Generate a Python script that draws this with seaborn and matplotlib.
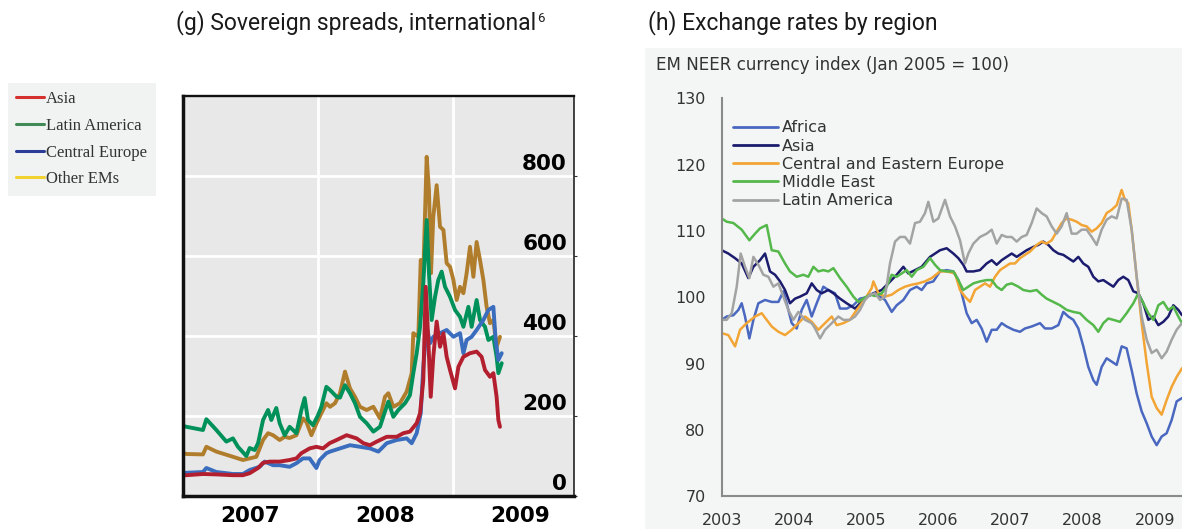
import matplotlib
matplotlib.use("Agg")
import matplotlib.pyplot as plt
import numpy as np
import pandas as pd
import seaborn as sns
from matplotlib.lines import Line2D
from matplotlib.patches import Rectangle
from matplotlib.transforms import ScaledTranslation, blended_transform_factory

# ---------------- (g) Sovereign spreads, basis points ----------------
asia_t = [2007.000, 2007.025, 2007.148, 2007.247, 2007.370, 2007.444, 2007.494, 2007.556,
          2007.593, 2007.642, 2007.716, 2007.790, 2007.840, 2007.877, 2007.938, 2007.988,
          2008.037, 2008.086, 2008.138, 2008.212, 2008.286, 2008.336, 2008.385, 2008.435,
          2008.509, 2008.583, 2008.632, 2008.681, 2008.731, 2008.756, 2008.780, 2008.798,
          2008.817, 2008.835, 2008.854, 2008.879, 2008.904, 2008.929, 2008.953, 2008.978,
          2009.015, 2009.040, 2009.077, 2009.126, 2009.175, 2009.212, 2009.237, 2009.274,
          2009.299, 2009.323, 2009.336, 2009.348]
asia_v = [52, 52, 55, 54, 52, 52, 57, 70,
          83, 86, 86, 90, 94, 107, 119, 123,
          119, 132, 140, 152, 144, 132, 127, 136,
          148, 148, 157, 161, 182, 207, 290, 523,
          390, 248, 348, 436, 373, 407, 348, 315,
          269, 323, 348, 357, 361, 348, 315, 298,
          307, 248, 190, 173]

latam_t = [2007.000, 2007.025, 2007.148, 2007.173, 2007.247, 2007.321, 2007.370, 2007.407,
           2007.469, 2007.494, 2007.531, 2007.556, 2007.593, 2007.630, 2007.654, 2007.691,
           2007.716, 2007.753, 2007.790, 2007.840, 2007.877, 2007.901, 2007.926, 2007.963,
           2008.000, 2008.025, 2008.062, 2008.089, 2008.138, 2008.163, 2008.200, 2008.237,
           2008.274, 2008.311, 2008.360, 2008.410, 2008.459, 2008.496, 2008.521, 2008.558,
           2008.595, 2008.645, 2008.681, 2008.706, 2008.731, 2008.756, 2008.780, 2008.805,
           2008.822, 2008.842, 2008.867, 2008.891, 2008.916, 2008.941, 2008.978, 2009.015,
           2009.052, 2009.077, 2009.114, 2009.138, 2009.175, 2009.200, 2009.237, 2009.262,
           2009.299, 2009.323, 2009.336, 2009.361]
latam_v = [175, 173, 165, 192, 165, 136, 144, 123,
           100, 120, 115, 132, 190, 215, 190, 220,
           182, 152, 173, 157, 215, 245, 190, 177,
           202, 223, 273, 265, 248, 246, 277, 257,
           232, 198, 182, 161, 173, 211, 236, 198,
           215, 232, 252, 307, 357, 423, 532, 690,
           557, 440, 498, 540, 561, 523, 498, 465,
           448, 423, 473, 423, 490, 440, 423, 390,
           398, 348, 307, 332]

ceur_t = [2007.000, 2007.025, 2007.148, 2007.173, 2007.247, 2007.370, 2007.444, 2007.494,
          2007.568, 2007.605, 2007.667, 2007.716, 2007.790, 2007.840, 2007.889, 2007.938,
          2007.988, 2008.012, 2008.062, 2008.089, 2008.163, 2008.237, 2008.311, 2008.385,
          2008.447, 2008.509, 2008.583, 2008.657, 2008.694, 2008.731, 2008.761, 2008.780,
          2008.805, 2008.830, 2008.854, 2008.904, 2008.953, 2009.003, 2009.052, 2009.077,
          2009.101, 2009.138, 2009.175, 2009.225, 2009.262, 2009.299, 2009.316, 2009.336,
          2009.361]
ceur_v = [58, 58, 60, 70, 60, 55, 55, 65,
          73, 86, 77, 77, 73, 82, 94, 94,
          70, 90, 107, 111, 119, 127, 123, 119,
          111, 132, 140, 144, 132, 157, 207, 323,
          423, 382, 398, 407, 415, 398, 407, 357,
          390, 398, 415, 440, 465, 473, 390, 340,
          357]

other_t = [2007.000, 2007.025, 2007.148, 2007.173, 2007.247, 2007.370, 2007.444, 2007.543,
           2007.593, 2007.630, 2007.667, 2007.716, 2007.753, 2007.790, 2007.840, 2007.889,
           2007.914, 2007.951, 2007.988, 2008.025, 2008.062, 2008.089, 2008.126, 2008.163,
           2008.200, 2008.237, 2008.274, 2008.311, 2008.360, 2008.410, 2008.459, 2008.496,
           2008.521, 2008.558, 2008.607, 2008.657, 2008.694, 2008.706, 2008.743, 2008.761,
           2008.780, 2008.805, 2008.822, 2008.837, 2008.854, 2008.879, 2008.904, 2008.929,
           2008.953, 2008.978, 2009.003, 2009.027, 2009.052, 2009.077, 2009.101, 2009.126,
           2009.151, 2009.175, 2009.200, 2009.225, 2009.249, 2009.274, 2009.299, 2009.323,
           2009.348]
other_v = [108, 105, 104, 123, 111, 98, 90, 98,
           140, 157, 152, 140, 148, 145, 152, 194,
           185, 152, 181, 207, 232, 223, 232, 257,
           311, 269, 248, 223, 215, 223, 194, 248,
           257, 223, 232, 261, 307, 407, 398, 590,
           557, 848, 765, 557, 698, 777, 673, 665,
           582, 573, 540, 490, 523, 507, 557, 623,
           548, 635, 590, 540, 473, 432, 440, 373,
           398]

spread_regions = ["Other EMs", "Latin America", "Central Europe", "Asia"]
spread_colors = ["#b07d2c", "#00915a", "#3a6dbd", "#b31f2e"]
spread_ticks = [0, 200, 400, 600, 800]
spread_year_labels = ["2007", "2008", "2009"]

legend_g_labels = ["Asia", "Latin America", "Central Europe", "Other EMs"]
legend_g_colors = ["#d6302e", "#3f8a55", "#2b3d99", "#f2d230"]

# ---------------- (h) EM NEER currency index, Jan 2005 = 100 ----------------
africa_t = [2003.000, 2003.069, 2003.162, 2003.231, 2003.277, 2003.323, 2003.383, 2003.439,
            2003.508, 2003.600, 2003.693, 2003.785, 2003.854, 2003.900, 2003.970, 2004.039,
            2004.108, 2004.177, 2004.247, 2004.316, 2004.408, 2004.477, 2004.570, 2004.639,
            2004.731, 2004.824, 2004.916, 2005.000, 2005.101, 2005.193, 2005.262, 2005.355,
            2005.424, 2005.516, 2005.608, 2005.701, 2005.770, 2005.839, 2005.932, 2006.024,
            2006.116, 2006.209, 2006.278, 2006.347, 2006.393, 2006.463, 2006.532, 2006.601,
            2006.670, 2006.740, 2006.809, 2006.878, 2006.947, 2007.040, 2007.132, 2007.201,
            2007.294, 2007.409, 2007.478, 2007.571, 2007.663, 2007.732, 2007.801, 2007.871,
            2007.940, 2008.009, 2008.078, 2008.148, 2008.194, 2008.263, 2008.332, 2008.402,
            2008.471, 2008.540, 2008.609, 2008.679, 2008.748, 2008.817, 2008.887, 2008.956,
            2009.025, 2009.094, 2009.163, 2009.233, 2009.302, 2009.376]
africa_v = [96.6, 97.1, 97.3, 98.1, 99.1, 97.1, 93.8, 96.6,
            99.1, 99.6, 99.3, 99.3, 100.9, 99.1, 96.1, 95.3,
            98.1, 99.6, 97.1, 99.1, 101.6, 101.1, 100.6, 98.3,
            98.3, 98.8, 99.8, 100.0, 100.6, 100.1, 99.6, 97.8,
            98.8, 99.6, 101.1, 101.6, 101.1, 102.1, 102.4, 103.9,
            104.1, 103.9, 102.6, 99.6, 97.6, 96.1, 96.6, 95.3,
            93.3, 95.1, 95.1, 96.1, 95.6, 95.1, 94.8, 95.3,
            95.6, 96.1, 95.3, 95.3, 95.8, 97.8, 97.1, 96.6,
            95.3, 92.6, 89.5, 87.5, 86.8, 89.5, 90.8, 90.3,
            89.8, 92.6, 92.3, 89.0, 85.5, 82.8, 81.0, 79.0,
            77.7, 79.0, 79.5, 81.5, 84.3, 84.8]

asia_fx_t = [2003.000, 2003.092, 2003.185, 2003.277, 2003.369, 2003.439, 2003.531, 2003.600,
             2003.669, 2003.739, 2003.808, 2003.877, 2003.946, 2004.016, 2004.085, 2004.177,
             2004.247, 2004.316, 2004.385, 2004.477, 2004.547, 2004.639, 2004.731, 2004.847,
             2005.000, 2005.101, 2005.216, 2005.308, 2005.424, 2005.516, 2005.585, 2005.678,
             2005.770, 2005.886, 2006.024, 2006.116, 2006.209, 2006.278, 2006.347, 2006.393,
             2006.486, 2006.578, 2006.670, 2006.740, 2006.809, 2006.878, 2006.947, 2007.017,
             2007.086, 2007.155, 2007.224, 2007.317, 2007.386, 2007.455, 2007.525, 2007.594,
             2007.663, 2007.732, 2007.801, 2007.871, 2007.940, 2008.009, 2008.078, 2008.148,
             2008.217, 2008.286, 2008.355, 2008.425, 2008.494, 2008.563, 2008.632, 2008.702,
             2008.771, 2008.840, 2008.910, 2008.979, 2009.048, 2009.117, 2009.186, 2009.256,
             2009.325, 2009.376]
asia_fx_v = [107.1, 106.6, 105.9, 105.1, 102.9, 104.6, 105.6, 106.6,
             103.9, 103.4, 102.4, 101.1, 99.1, 99.8, 100.1, 100.6,
             102.1, 101.1, 100.6, 101.1, 100.6, 99.8, 99.1, 98.3,
             100.0, 100.6, 101.1, 102.1, 103.4, 104.6, 103.6, 104.1,
             104.6, 106.1, 107.1, 107.4, 106.6, 105.9, 104.9, 103.9,
             103.9, 104.1, 105.1, 105.6, 104.9, 105.6, 106.1, 106.6,
             106.1, 106.6, 107.1, 107.6, 107.9, 108.4, 107.9, 107.1,
             106.6, 106.4, 105.9, 105.4, 106.1, 105.1, 104.6, 103.1,
             102.4, 102.6, 102.1, 101.6, 102.6, 103.1, 102.6, 100.9,
             100.6, 99.1, 96.6, 97.1, 95.8, 96.3, 97.1, 98.8,
             98.1, 97.3]

cee_t = [2003.000, 2003.092, 2003.185, 2003.254, 2003.346, 2003.462, 2003.554, 2003.623,
         2003.693, 2003.785, 2003.877, 2003.970, 2004.062, 2004.154, 2004.247, 2004.339,
         2004.431, 2004.524, 2004.593, 2004.685, 2004.777, 2004.870, 2004.939, 2005.000,
         2005.078, 2005.101, 2005.170, 2005.262, 2005.355, 2005.447, 2005.539, 2005.632,
         2005.724, 2005.816, 2005.909, 2006.024, 2006.116, 2006.232, 2006.301, 2006.370,
         2006.440, 2006.509, 2006.578, 2006.647, 2006.717, 2006.786, 2006.855, 2006.924,
         2006.994, 2007.063, 2007.132, 2007.201, 2007.271, 2007.363, 2007.432, 2007.501,
         2007.571, 2007.640, 2007.709, 2007.778, 2007.848, 2007.917, 2007.986, 2008.055,
         2008.125, 2008.194, 2008.263, 2008.332, 2008.402, 2008.471, 2008.540, 2008.586,
         2008.632, 2008.679, 2008.748, 2008.817, 2008.887, 2008.956, 2009.025, 2009.094,
         2009.163, 2009.233, 2009.302, 2009.376]
cee_v = [94.6, 94.3, 92.6, 95.1, 96.1, 97.1, 97.6, 96.6,
         95.6, 94.8, 94.3, 95.1, 96.1, 97.1, 96.3, 95.1,
         96.1, 97.1, 95.8, 96.1, 96.6, 98.1, 99.1, 100.0,
         101.4, 102.4, 100.6, 100.1, 100.4, 101.1, 101.6, 101.9,
         102.1, 102.4, 102.9, 103.9, 103.9, 103.6, 101.1, 100.1,
         99.3, 101.1, 101.6, 102.1, 101.6, 103.1, 104.1, 104.6,
         105.1, 105.1, 105.9, 106.4, 106.9, 107.9, 108.4, 108.1,
         108.6, 109.9, 111.2, 111.9, 111.7, 111.4, 110.9, 110.7,
         109.9, 110.4, 111.2, 112.7, 113.2, 113.9, 116.2, 114.7,
         114.2, 110.2, 103.1, 96.1, 90.1, 85.0, 83.3, 82.3,
         84.5, 86.5, 88.0, 89.3]

mideast_t = [2003.000, 2003.069, 2003.162, 2003.277, 2003.383, 2003.462, 2003.531, 2003.623,
             2003.693, 2003.785, 2003.877, 2003.946, 2004.039, 2004.131, 2004.200, 2004.270,
             2004.339, 2004.408, 2004.477, 2004.547, 2004.639, 2004.731, 2004.824, 2004.893,
             2004.962, 2005.054, 2005.124, 2005.216, 2005.285, 2005.355, 2005.424, 2005.493,
             2005.562, 2005.632, 2005.701, 2005.793, 2005.886, 2005.955, 2006.024, 2006.116,
             2006.209, 2006.278, 2006.347, 2006.416, 2006.486, 2006.578, 2006.670, 2006.740,
             2006.809, 2006.878, 2006.947, 2007.017, 2007.109, 2007.178, 2007.271, 2007.363,
             2007.432, 2007.501, 2007.594, 2007.686, 2007.778, 2007.871, 2007.963, 2008.055,
             2008.148, 2008.217, 2008.286, 2008.355, 2008.425, 2008.517, 2008.609, 2008.702,
             2008.771, 2008.840, 2008.910, 2008.979, 2009.048, 2009.117, 2009.186, 2009.256,
             2009.325, 2009.376]
mideast_v = [111.9, 111.4, 111.2, 110.2, 108.6, 109.6, 110.4, 110.9,
             107.1, 106.9, 105.1, 103.9, 103.1, 103.4, 103.1, 104.6,
             103.9, 104.1, 103.9, 104.4, 102.9, 101.6, 100.1, 99.3,
             99.8, 100.4, 100.2, 100.6, 101.6, 103.4, 103.1, 103.6,
             104.1, 103.1, 104.1, 104.6, 105.9, 104.9, 104.1, 103.9,
             103.9, 102.6, 101.1, 101.6, 102.1, 102.4, 102.6, 102.6,
             101.6, 101.1, 101.9, 102.1, 101.6, 101.1, 100.9, 101.1,
             100.4, 99.8, 99.3, 98.8, 98.1, 97.8, 97.6, 96.6,
             95.8, 94.8, 96.1, 96.8, 96.6, 96.3, 97.6, 99.1,
             100.6, 99.1, 97.6, 96.6, 98.8, 99.3, 98.1, 98.6,
             97.1, 96.1]

latam_fx_t = [2003.000, 2003.069, 2003.139, 2003.208, 2003.263, 2003.323, 2003.383, 2003.439,
              2003.508, 2003.577, 2003.646, 2003.716, 2003.785, 2003.854, 2003.923, 2003.993,
              2004.062, 2004.154, 2004.247, 2004.293, 2004.362, 2004.431, 2004.524, 2004.616,
              2004.685, 2004.777, 2004.847, 2004.916, 2004.985, 2005.054, 2005.124, 2005.193,
              2005.262, 2005.331, 2005.401, 2005.470, 2005.539, 2005.608, 2005.678, 2005.747,
              2005.816, 2005.862, 2005.932, 2006.001, 2006.093, 2006.163, 2006.232, 2006.301,
              2006.370, 2006.416, 2006.486, 2006.578, 2006.670, 2006.740, 2006.809, 2006.878,
              2006.947, 2007.017, 2007.086, 2007.155, 2007.224, 2007.294, 2007.363, 2007.432,
              2007.501, 2007.571, 2007.640, 2007.709, 2007.778, 2007.848, 2007.917, 2007.986,
              2008.055, 2008.125, 2008.194, 2008.263, 2008.332, 2008.402, 2008.471, 2008.540,
              2008.609, 2008.679, 2008.748, 2008.817, 2008.887, 2008.956, 2009.025, 2009.094,
              2009.163, 2009.233, 2009.302, 2009.376]
latam_fx_v = [96.6, 96.6, 97.6, 101.6, 106.6, 104.6, 102.9, 106.1,
              104.9, 103.4, 103.1, 101.6, 102.1, 100.1, 98.1, 96.6,
              97.8, 96.6, 96.1, 95.3, 93.8, 95.1, 96.1, 97.1,
              96.6, 96.6, 97.1, 98.1, 99.6, 100.4, 100.6, 99.6,
              100.1, 105.1, 108.4, 109.1, 109.1, 108.1, 111.2, 111.4,
              112.7, 114.4, 111.4, 111.9, 114.7, 112.2, 110.7, 108.6,
              105.1, 106.6, 108.1, 109.1, 109.6, 110.2, 108.1, 109.4,
              109.1, 109.1, 108.4, 109.1, 109.4, 111.2, 113.4, 112.7,
              112.2, 110.7, 109.6, 110.7, 112.7, 109.6, 109.6, 110.2,
              110.2, 109.1, 107.9, 110.2, 111.7, 112.2, 111.9, 114.9,
              114.7, 110.2, 103.1, 97.1, 93.6, 91.6, 92.1, 90.8,
              91.8, 93.6, 95.1, 96.1]

fx_regions = ["Africa", "Asia", "Central and Eastern Europe", "Middle East", "Latin America"]
fx_colors = ["#4a68c0", "#1c1c6e", "#f2a535", "#55b84a", "#a3a3a3"]
fx_yticks = [70, 80, 90, 100, 110, 120, 130]
fx_xticks = [2003, 2004, 2005, 2006, 2007, 2008, 2009]


def long_frame(series):
    parts = [pd.DataFrame({"year": t, "value": v, "region": name})
             for name, (t, v) in series.items()]
    return pd.concat(parts, ignore_index=True)


spreads = long_frame({
    "Asia": (asia_t, asia_v),
    "Latin America": (latam_t, latam_v),
    "Central Europe": (ceur_t, ceur_v),
    "Other EMs": (other_t, other_v),
})
neer = long_frame({
    "Africa": (africa_t, africa_v),
    "Asia": (asia_fx_t, asia_fx_v),
    "Central and Eastern Europe": (cee_t, cee_v),
    "Middle East": (mideast_t, mideast_v),
    "Latin America": (latam_fx_t, latam_fx_v),
})

sns.set_style("white")
plt.rcParams["font.family"] = ["DejaVu Sans"]

W, H = 1182, 529
fig = plt.figure(figsize=(W / 100, H / 100), dpi=100)
fig.patch.set_facecolor("white")

# light panel behind the exchange-rate chart (kept beneath every axes)
fig.patches.append(Rectangle((645 / W, 0), (W - 645) / W, (H - 48) / H,
                             transform=fig.transFigure, facecolor="#f4f6f6",
                             edgecolor="none", zorder=-5))

# ---------------- left panel ----------------
ax1 = fig.add_axes([183 / W, 1 - 496 / H, 391 / W, 400 / H])
ax1.set_facecolor("#e8e8e8")
sns.lineplot(data=spreads, x="year", y="value", hue="region",
             hue_order=spread_regions, palette=dict(zip(spread_regions, spread_colors)),
             estimator=None, lw=2.8, legend=False, ax=ax1)
ax1.set_xlim(2007.0, 2007.0 + 391 / 135)
ax1.set_ylim(0, 1000)
ax1.set_xlabel("")
ax1.set_ylabel("")

ax1.set_yticks(spread_ticks)
ax1.yaxis.set_ticks_position("right")
ax1.tick_params(axis="y", which="both", direction="out", length=2.5, width=0.8,
                color="#333333", labelright=False, labelleft=False)

ax1.set_xticks([2008, 2009])
ax1.set_xticklabels(["", ""])
quarters = [2007.25, 2007.5, 2007.75, 2008.25, 2008.5, 2008.75, 2009.25, 2009.5]
qlabels = ["", spread_year_labels[0], "", "", spread_year_labels[1], "", "", spread_year_labels[2]]
ax1.set_xticks(quarters, qlabels, minor=True, fontsize=15.5, fontweight="bold")
ax1.tick_params(axis="x", which="major", direction="in", length=18, width=1.6, color="#222222")
ax1.tick_params(axis="x", which="minor", direction="in", length=9.5, width=1.6,
                color="#222222", pad=7, labelcolor="black")

ax1.grid(True, which="major", axis="both", color="white", lw=2)
ax1.set_axisbelow(True)
for side, lw in (("left", 2.5), ("bottom", 2.5), ("top", 1.7), ("right", 1.1)):
    ax1.spines[side].set_visible(True)
    ax1.spines[side].set_linewidth(lw)
    ax1.spines[side].set_color("#111111")

# value labels sit inside the plot, just above each gridline
lab_tr = blended_transform_factory(ax1.transAxes, ax1.transData) + \
    ScaledTranslation(0, 6 / 100, fig.dpi_scale_trans)
for v in spread_ticks:
    ax1.text((567 - 183) / 391, v, f"{v}", transform=lab_tr, ha="right", va="baseline",
             fontsize=15.5, fontweight="bold", color="black")

# legend for the spreads panel
g_handles = [Line2D([], [], color=c, lw=2.2) for c in legend_g_colors]
leg_g = fig.legend(g_handles, legend_g_labels, loc="upper left",
                   bbox_to_anchor=(8 / W, 1 - 83 / H), frameon=True, fancybox=False,
                   facecolor="#f1f3f3", edgecolor="none", framealpha=1,
                   prop={"family": "Liberation Serif", "size": 12},
                   handlelength=1.68, handletextpad=0.12, labelspacing=0.64,
                   borderpad=0.5, borderaxespad=0)
for t in leg_g.get_texts():
    t.set_color("#333333")

# ---------------- right panel ----------------
ax2 = fig.add_axes([721.7 / W, 1 - 496.2 / H, (W - 721.7) / W, (496.2 - 98.4) / H])
ax2.set_facecolor("none")
sns.lineplot(data=neer, x="year", y="value", hue="region",
             hue_order=fx_regions, palette=dict(zip(fx_regions, fx_colors)),
             estimator=None, lw=1.8, legend=False, ax=ax2)
ax2.set_xlim(2003, 2009.376)
ax2.set_ylim(70, 130)
ax2.set_xlabel("")
ax2.set_ylabel("")
ax2.set_xticks(fx_xticks)
ax2.set_yticks(fx_yticks)
ax2.tick_params(axis="y", direction="out", length=4, width=1.2, color="#8a8a8a",
                labelsize=11.5, labelcolor="#333333", pad=7.5)
ax2.tick_params(axis="x", direction="in", length=4, width=1.2, color="#8a8a8a",
                labelsize=11.5, labelcolor="#333333", pad=12)
for side in ("top", "right"):
    ax2.spines[side].set_visible(False)
for side in ("left", "bottom"):
    ax2.spines[side].set_color("#8a8a8a")
    ax2.spines[side].set_linewidth(1.5)

h_handles = [Line2D([], [], color=c, lw=2.0) for c in fx_colors]
leg_h = ax2.legend(h_handles, fx_regions, loc="upper left",
                   bbox_to_anchor=((733 - 721.7) / (W - 721.7), (496.2 - 120.5) / (496.2 - 98.4)),
                   frameon=False, fontsize=11.5, handlelength=2.8, handletextpad=0.25,
                   labelspacing=0.2, borderpad=0, borderaxespad=0)
for t in leg_h.get_texts():
    t.set_color("#333333")

# ---------------- titles ----------------
title_font = {"family": "Roboto", "size": 16.5, "color": "#1a1a1a"}
tg = fig.text(176 / W, 1 - 29 / H, "(g) Sovereign spreads, international",
              ha="left", va="baseline", fontdict=title_font)
fig.text(648 / W, 1 - 29 / H, "(h) Exchange rates by region",
         ha="left", va="baseline", fontdict=title_font)
fig.text(656 / W, 1 - 65 / H, "EM NEER currency index (Jan 2005 = 100)",
         ha="left", va="center", fontsize=12.1, color="#333333")

fig.canvas.draw()
bb = tg.get_window_extent(fig.canvas.get_renderer())
fig.text((bb.x1 + 1.5) / W, 1 - 22 / H, "6", ha="left", va="baseline",
         fontdict={"family": "Roboto", "size": 9.5, "color": "#1a1a1a"})

fig.savefig("out.png", dpi=100)
